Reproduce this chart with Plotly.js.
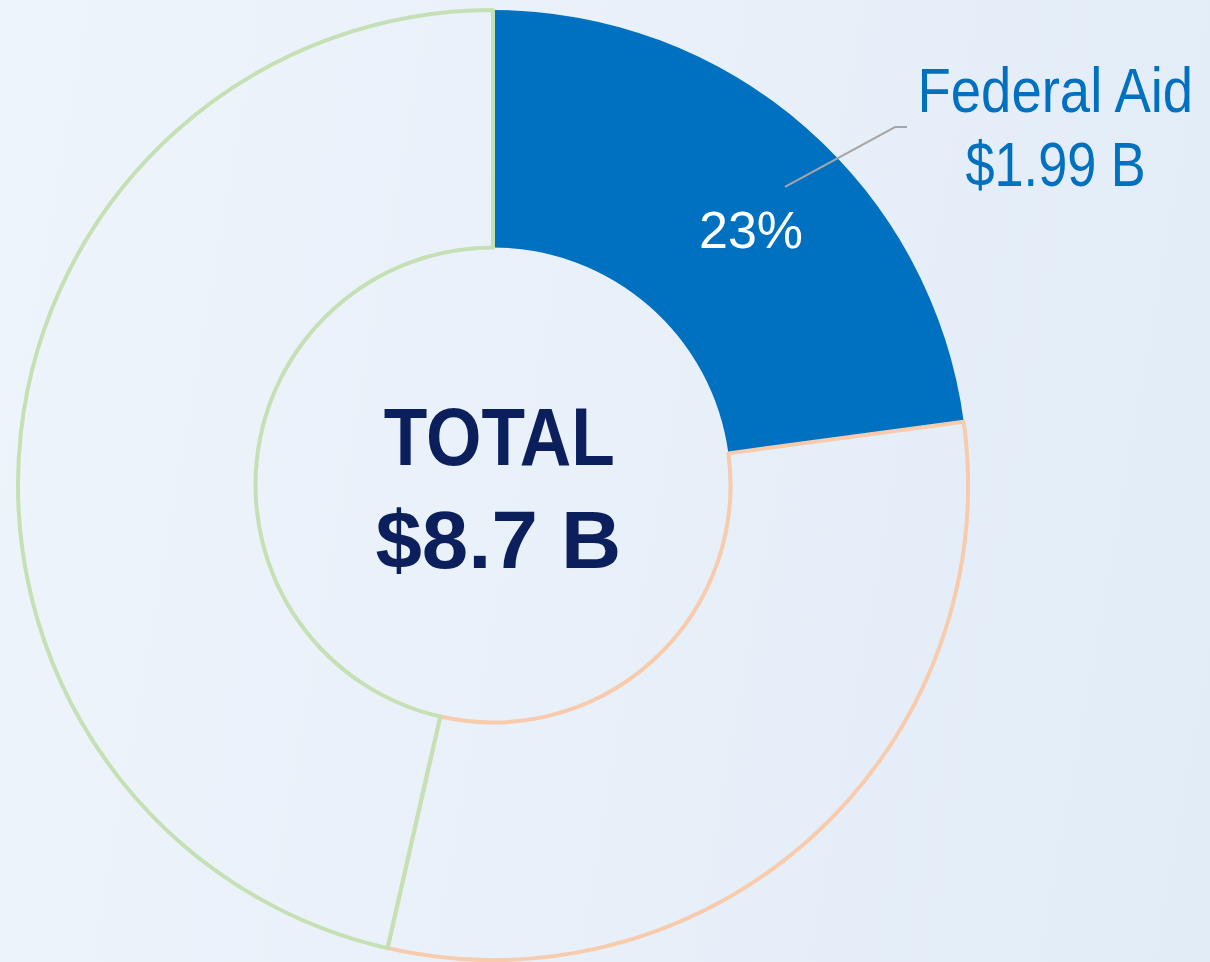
<!DOCTYPE html>
<html>
<head>
<meta charset="utf-8">
<script src="https://cdn.plot.ly/plotly-3.0.1.min.js"></script>
<style>
  html, body { margin: 0; padding: 0; }
  body { width: 1210px; height: 962px; overflow: hidden;
         background: linear-gradient(100deg, #EEF4FB 0%, #E8F0F9 50%, #E2ECF7 100%); }
  #chart { width: 1210px; height: 962px; }
</style>
</head>
<body>
<div id="chart"></div>
<script>
// Data (billions of dollars)
const categories = ['Federal Aid', 'State Funds', 'Local Funds'];
const values = [1.99, 2.67, 4.04];
const sliceFill = ['#0070C0', 'rgba(0,0,0,0)', 'rgba(0,0,0,0)'];
const sliceLine = ['#0070C0', '#F8CBAD', '#C5E0B4'];
const sliceLineWidth = [0, 4, 4];
const totalLabel = 'TOTAL';
const totalValue = '$8.7 B';
const calloutName = 'Federal Aid';
const calloutValue = '$1.99 B';

const total = values.reduce((a, b) => a + b, 0);
const fedPct = Math.round(values[0] / total * 100) + '%';

const trace = {
  type: 'pie',
  labels: categories,
  values: values,
  hole: 0.5,
  sort: false,
  direction: 'clockwise',
  rotation: 0,
  marker: { colors: sliceFill, line: { color: sliceLine, width: sliceLineWidth } },
  textinfo: 'none',
  hoverinfo: 'none',
  showlegend: false,
  domain: { x: [0, 1], y: [0, 1] }
};

const sans = '"Liberation Sans", Arial, sans-serif';

const layout = {
  width: 1210,
  height: 962,
  margin: { l: 18, r: 242, t: 10, b: 2 },
  paper_bgcolor: 'rgba(0,0,0,0)',
  plot_bgcolor: 'rgba(0,0,0,0)',
  showlegend: false,
  annotations: [
    { xref: 'paper', yref: 'paper', x: 0.5058, y: 0.5505, xanchor: 'center', yanchor: 'middle',
      text: '<b>' + totalLabel + '</b>', showarrow: false,
      font: { family: sans, size: 81, color: '#0A1F5B' } },
    { xref: 'paper', yref: 'paper', x: 0.5058, y: 0.4421, xanchor: 'center', yanchor: 'middle',
      text: '<b>' + totalValue + '</b>', showarrow: false,
      font: { family: sans, size: 81, color: '#0A1F5B' } },
    { xref: 'paper', yref: 'paper', x: 1.0916, y: 0.9153, xanchor: 'center', yanchor: 'middle',
      text: calloutName, showarrow: false,
      font: { family: sans, size: 63, color: '#0070C0' } },
    { xref: 'paper', yref: 'paper', x: 1.0916, y: 0.8374, xanchor: 'center', yanchor: 'middle',
      text: calloutValue, showarrow: false,
      font: { family: sans, size: 63, color: '#0070C0' } },
    { xref: 'paper', yref: 'paper', x: 0.7716, y: 0.768, xanchor: 'center', yanchor: 'middle',
      text: fedPct, showarrow: false,
      font: { family: sans, size: 52, color: '#FFFFFF' } }
  ],
  shapes: [
    { type: 'path', xref: 'paper', yref: 'paper',
      path: 'M 0.8074 0.8137 L 0.9232 0.8768 L 0.9358 0.8768',
      line: { color: '#A6A6A6', width: 2 } }
  ]
};

Plotly.newPlot('chart', [trace], layout, { displayModeBar: false, staticPlot: true }).then(function (gd) {
  // emulate the typeface proportions of the original by scaling glyphs horizontally
  const texts = gd.querySelectorAll('.annotation-text');
  const scales = [0.88, 1.03, 0.865, 0.83, 1];
  texts.forEach(function (t, i) {
    const s = scales[i] || 1;
    if (s !== 1) {
      t.style.transformBox = 'fill-box';
      t.style.transformOrigin = 'center';
      t.style.transform = 'scaleX(' + s + ')';
    }
  });
});
</script>
</body>
</html>
